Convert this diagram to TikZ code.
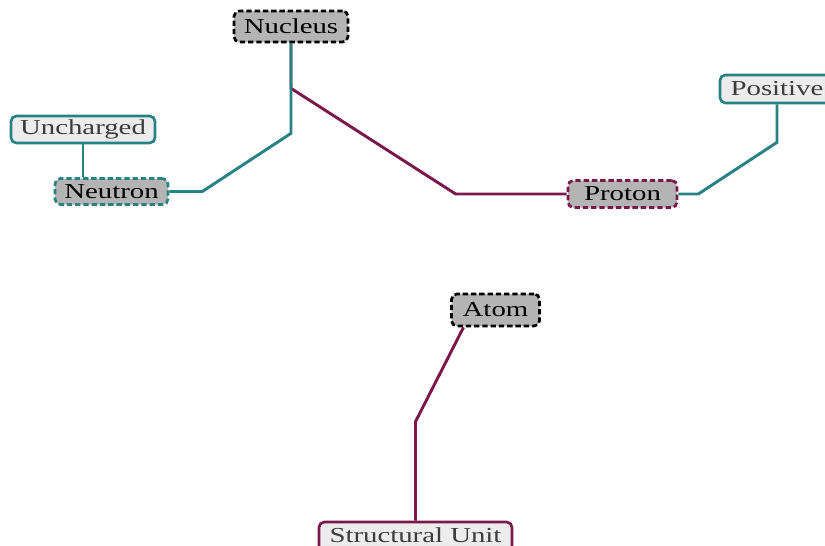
\documentclass[tikz,border=0pt]{standalone}
\usepackage{fontspec}
\setmainfont[FakeStretch=1.35]{Liberation Serif}
\usetikzlibrary{calc}
\definecolor{tealline}{RGB}{40,130,132}
\definecolor{plumline}{RGB}{122,24,76}
\definecolor{boxgray}{RGB}{180,180,180}
\definecolor{boxlight}{RGB}{236,236,236}
\definecolor{leaftext}{RGB}{60,60,60}
\tikzset{
  x=0.75pt, y=-0.75pt,
  concept/.style={draw, rounded corners=4pt, line width=2pt, dash pattern=on 4pt off 2.2pt,
    fill=boxgray, inner sep=0pt, align=center, text=black,
    font=\fontsize{16}{19}\selectfont},
  leaf/.style={draw, rounded corners=4pt, line width=2pt,
    fill=boxlight, inner sep=0pt, align=center, text=leaftext,
    font=\fontsize{16}{19}\selectfont},
  tlink/.style={draw=tealline, line width=2.2pt},
  plink/.style={draw=plumline, line width=2.2pt},
}
\begin{document}
\begin{tikzpicture}
\clip (0,0) rectangle (825,546);
\fill[white] (0,0) rectangle (825,546);

% concept nodes
\node[concept, draw=black, minimum width=114*0.75pt, minimum height=31*0.75pt] (nucleus) at (291,26.5) {Nucleus};
\node[concept, draw=tealline, minimum width=113*0.75pt, minimum height=26*0.75pt] (neutron) at (111.5,191.5) {Neutron};
\node[concept, draw=plumline, minimum width=109*0.75pt, minimum height=27*0.75pt] (proton) at (622.5,194) {Proton};
\node[concept, draw=black, minimum width=88*0.75pt, minimum height=32*0.75pt] (atom) at (495.5,310) {Atom};

% leaf nodes
\node[leaf, draw=tealline, minimum width=144*0.75pt, minimum height=27*0.75pt] (uncharged) at (83,129.5) {Uncharged};
\node[leaf, draw=tealline, minimum width=114*0.75pt, minimum height=28*0.75pt] (positive) at (777,89) {Positive};
\node[leaf, draw=plumline, minimum width=193*0.75pt, minimum height=36*0.75pt,
      text height=11pt, text depth=8pt] (unit) at (415.5,540) {Structural Unit};

% connectors
\coordinate (nucsplit) at ($(nucleus.south)+(0,45)$);
\coordinate (nucbend) at ($(nucleus.south)+(0,90)$);
\coordinate (neubend) at ($(neutron.east)+(33,0)$);
\coordinate (probend) at ($(proton.west)+(-111,0)$);
\coordinate (posbend1) at ($(proton.east)+(20,0)$);
\coordinate (posbend2) at ($(positive.south)+(0,38)$);
\coordinate (atomfoot) at ($(atom.south)+(-32,0)$);
\coordinate (unitbend) at ($(unit.north)+(0,-99)$);

\path[plink] (nucleus.south) -- (nucsplit) -- (probend) -- (proton.west);
\path[tlink] (nucleus.south) -- (nucbend) -- (neubend) -- (neutron.east);
\path[tlink] (uncharged.south) -- (neutron.north -| uncharged.south);
\path[tlink] (proton.east) -- (posbend1) -- (posbend2) -- (positive.south);
\path[plink] (atomfoot) -- (unitbend) -- (unit.north);
\end{tikzpicture}
\end{document}
